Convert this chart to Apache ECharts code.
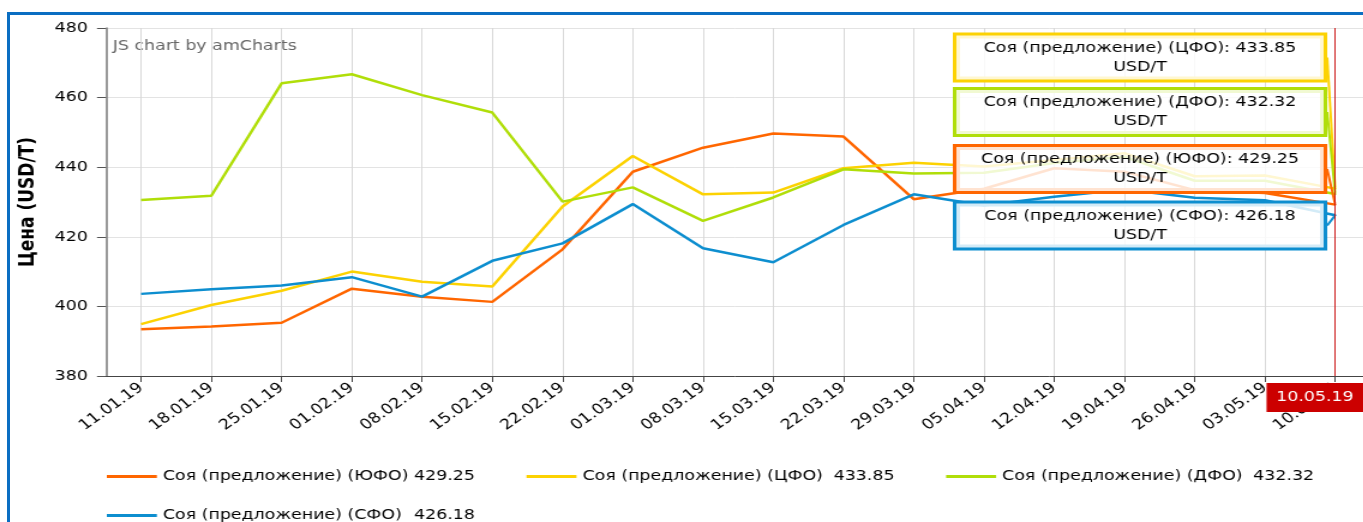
<!DOCTYPE html>
<html>
<head>
<meta charset="utf-8">
<script src="https://cdn.jsdelivr.net/npm/echarts@6/dist/echarts.min.js"></script>
<style>
html,body{margin:0;padding:0;background:#fff;overflow:hidden;width:1363px;height:522px;}
#wrap{position:absolute;left:0;top:0;width:1136px;height:522px;transform:scaleX(1.2);transform-origin:0 0;}
#chart{width:1136px;height:522px;}
#frame{position:absolute;left:7px;top:12px;width:1500px;height:700px;border-left:3px solid #0a6ec2;border-top:3px solid #0a6ec2;pointer-events:none;}
</style>
</head>
<body>
<div id="wrap"><div id="chart"></div></div>
<div id="frame"></div>
<script>
const dates = ['11.01.19','18.01.19','25.01.19','01.02.19','08.02.19','15.02.19','22.02.19','01.03.19','08.03.19','15.03.19','22.03.19','29.03.19','05.04.19','12.04.19','19.04.19','26.04.19','03.05.19','10.05.19'];
const seriesNames = ['Соя (предложение) (ЮФО)','Соя (предложение) (ЦФО)','Соя (предложение) (ДФО)','Соя (предложение) (СФО)'];
const yufo = [393.4,394.2,395.3,405.1,402.8,401.3,416.4,438.7,445.6,449.7,448.8,430.8,433.8,439.7,438.7,433.4,432.6,429.25];
const cfo  = [394.9,400.4,404.5,410.0,407.1,405.7,428.7,443.2,432.2,432.7,439.7,441.3,440.2,442.1,444.0,437.4,437.6,433.85];
const dfo  = [430.6,431.8,464.1,466.7,460.7,455.7,430.1,434.2,424.6,431.3,439.4,438.2,438.4,441.2,443.0,436.1,436.1,432.32];
const sfo  = [403.6,404.9,406.0,408.4,402.8,413.1,418.1,429.4,416.7,412.7,423.4,432.2,429.0,431.5,433.6,431.2,430.5,426.18];
const yTicks = [380,400,420,440,460,480];
const unit = 'USD/T';
const colors = ['#ff6600','#fcd202','#b0de09','#0d8ecf'];
const balloonY = [169, 57.5, 112, 225.5];
const allData = [yufo, cfo, dfo, sfo];
const FONT = 'DejaVu Sans';
const FS = 14.5;
const fmt = v => v.toFixed(2);
const last = dates.length - 1;

const chart = echarts.init(document.getElementById('chart'));

const legendCommon = {
  icon: 'rect', itemWidth: 41.7, itemHeight: 3, itemGap: 43, selectedMode: false, orient: 'horizontal',
  formatter: name => {
    const i = seriesNames.indexOf(name);
    return '{n|' + name + '}{v|' + fmt(allData[i][last]) + '}';
  },
  textStyle: {
    fontFamily: FONT,
    rich: {
      n: {width: 211, fontSize: FS, color: '#000', fontFamily: FONT, lineHeight: 18},
      v: {width: 49, align: 'right', fontSize: FS, color: '#000', fontFamily: FONT, lineHeight: 18}
    }
  }
};

chart.setOption({
  animation: false,
  textStyle: {fontFamily: FONT},
  grid: {left: 88.3, top: 28, width: 1053.6, height: 348, outerBoundsMode: 'none', containLabel: false},
  graphic: [{
    type: 'text', left: 94, top: 39,
    style: {text: 'JS chart by amCharts', fontSize: FS, fill: '#666', fontFamily: FONT}
  }],
  legend: [
    Object.assign({data: seriesNames.slice(0,3), left: 84, top: 464}, legendCommon),
    Object.assign({data: [seriesNames[3]], left: 84, top: 503}, legendCommon)
  ],
  xAxis: {
    type: 'category', data: dates, boundaryGap: true,
    axisLine: {lineStyle: {color: '#444', width: 1}},
    axisTick: {show: true, alignWithLabel: true, length: 6, lineStyle: {color: '#444'}},
    axisLabel: {rotate: 40, interval: 0, fontSize: FS, color: '#000', margin: 10, fontFamily: FONT},
    splitLine: {show: true, alignWithLabel: true, interval: 0, lineStyle: {color: '#d8d8d8', width: 1}},
    axisPointer: {
      show: true, type: 'line', value: last, status: 'show', snap: true, triggerTooltip: false,
      lineStyle: {color: '#cc0000', width: 1, type: 'solid', opacity: 0.85},
      label: {show: true, backgroundColor: '#cc0000', color: '#fff', fontSize: FS, fontFamily: FONT,
              padding: [7, 8, 7, 8], margin: 7, borderRadius: 0, shadowBlur: 0}
    }
  },
  yAxis: {
    type: 'value', min: yTicks[0], max: yTicks[yTicks.length-1], interval: yTicks[1]-yTicks[0],
    name: 'Цена (USD/T)', nameLocation: 'middle', nameGap: 56,
    nameTextStyle: {fontWeight: 'bold', fontSize: 17, color: '#000', fontFamily: FONT},
    axisLine: {show: true, lineStyle: {color: '#777', width: 1.5}},
    axisTick: {show: true, length: 7.5, lineStyle: {color: '#555'}},
    axisLabel: {fontSize: FS, color: '#000', margin: 15, fontFamily: FONT},
    splitLine: {lineStyle: {color: '#e3e3e3', width: 1}}
  },
  series: allData.map((d, i) => ({
    name: seriesNames[i], type: 'line', symbol: 'none', showAllSymbol: true,
    data: d.map((v, j) => j === last ? {
      value: v, symbol: 'circle', symbolSize: 2,
      label: {show: true}
    } : v),
    lineStyle: {width: 2.5, color: colors[i]},
    itemStyle: {color: colors[i]},
    label: {
      show: false,
      formatter: p => seriesNames[i] + ': ' + fmt(p.value) + '\n' + unit,
      backgroundColor: 'rgba(255,255,255,0.82)', borderColor: colors[i], borderWidth: 3,
      padding: [3, 8], width: 290, align: 'center', lineHeight: 19,
      fontSize: FS, color: '#000', fontFamily: FONT
    },
    labelLayout: {x: 950, y: balloonY[i], align: 'center', verticalAlign: 'middle'},
    labelLine: {show: true, lineStyle: {color: colors[i], width: 2}},
    emphasis: {disabled: true},
    silent: true
  }))
});
</script>
</body>
</html>
